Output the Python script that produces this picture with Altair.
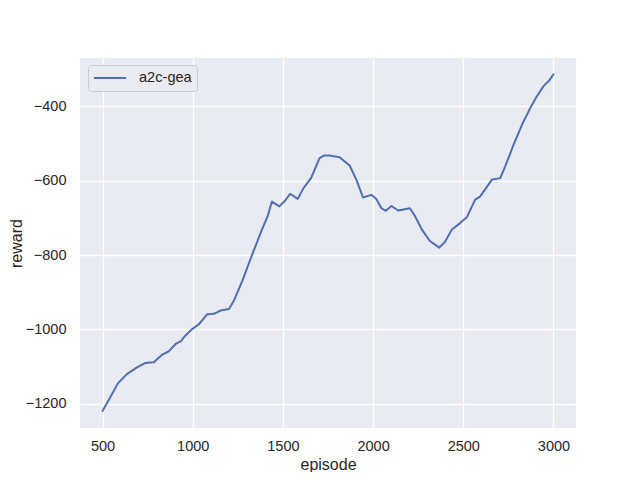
import altair as alt
import pandas as pd

episode = [500, 552, 585, 635, 691, 738, 784, 830, 867, 905, 933, 960, 997, 1034,
           1081, 1118, 1155, 1201, 1229, 1276, 1331, 1383, 1415, 1439, 1480, 1513,
           1540, 1582, 1614, 1656, 1703, 1730, 1758, 1814, 1870, 1907, 1944, 1990,
           2018, 2046, 2070, 2102, 2139, 2204, 2232, 2269, 2315, 2367, 2399, 2436,
           2482, 2520, 2566, 2594, 2659, 2705, 2733, 2779, 2826, 2872, 2909, 2946,
           2974, 3000]
reward = [-1219, -1174, -1145, -1120, -1102, -1090, -1088, -1068, -1059, -1039,
          -1032, -1016, -999, -986, -959, -958, -949, -945, -922, -868, -797, -732,
          -696, -656, -669, -653, -635, -649, -620, -593, -539, -532, -532, -537,
          -559, -597, -645, -638, -649, -674, -681, -668, -680, -674, -695, -730,
          -762, -780, -764, -732, -714, -698, -651, -642, -597, -593, -561, -503,
          -449, -404, -372, -345, -332, -314]
series = ["a2c-gea"] * len(episode)

x_ticks = [500, 1000, 1500, 2000, 2500, 3000]
y_ticks = [-1200, -1000, -800, -600, -400]

df = pd.DataFrame({"episode": episode, "reward": reward, "series": series})

FONT = "Liberation Sans"
TXT = "#262626"

chart = alt.Chart(df).mark_line(strokeWidth=2, strokeJoin="round", strokeCap="round").encode(
    x=alt.X("episode:Q",
            scale=alt.Scale(domain=[375, 3125], nice=False, zero=False),
            axis=alt.Axis(values=x_ticks, title="episode", format="d",
                          labelPadding=11, titleX=248, titleY=41.5,
                          titleBaseline="alphabetic")),
    y=alt.Y("reward:Q",
            scale=alt.Scale(domain=[-1265, -270], nice=False, zero=False),
            axis=alt.Axis(values=y_ticks, title="reward", format="d",
                          labelPadding=14, titleX=-59, titleY=185,
                          titleBaseline="alphabetic")),
    color=alt.Color("series:N",
                    scale=alt.Scale(range=["#4c72b0"]),
                    legend=alt.Legend(title=None, orient="none", legendX=8, legendY=7,
                                      symbolType="stroke", symbolSize=1024,
                                      symbolStrokeWidth=2, labelOffset=12,
                                      clipHeight=16,
                                      padding=5, cornerRadius=3,
                                      fillColor="#eaeaf2", strokeColor="#cccccc",
                                      labelFont=FONT, labelFontSize=14.6,
                                      labelColor=TXT)),
).properties(
    width=496, height=370,
    background="#ffffff",
    autosize=alt.AutoSizeParams(type="none"),
    padding={"left": 72, "top": 50, "right": 56, "bottom": 44},
).configure_view(
    fill="#eaeaf2", stroke=None
).configure_axis(
    domain=False, ticks=False, tickSize=0,
    grid=True, gridColor="#ffffff", gridWidth=1.3,
    labelFont=FONT, labelFontSize=14.5, labelColor=TXT,
    titleFont=FONT, titleFontSize=16, titleColor=TXT, titleFontWeight="normal",
)

chart.save("out.html", embed_options={"renderer": "svg", "actions": False})
